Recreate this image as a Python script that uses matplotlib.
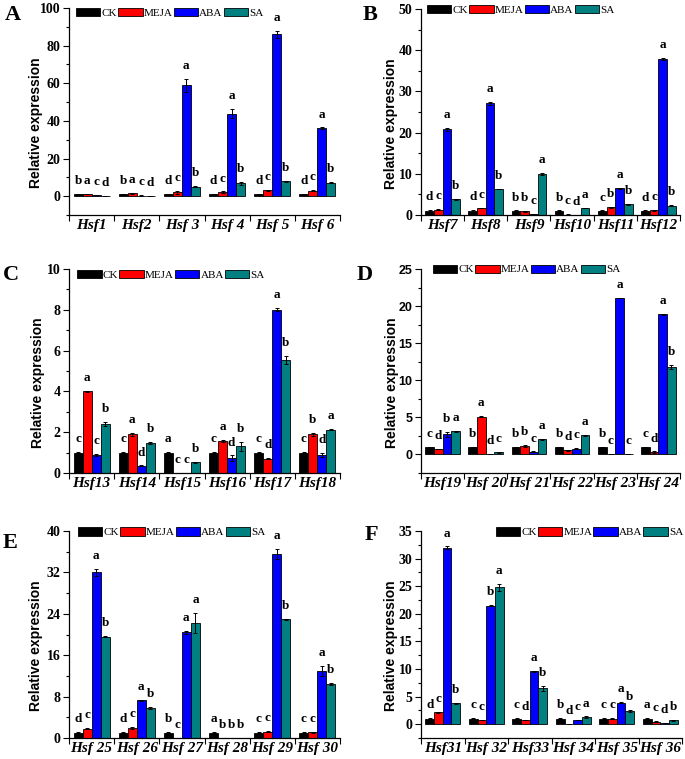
#!/usr/bin/env python3

import numpy as np
import matplotlib.pyplot as plt
from matplotlib.ticker import AutoMinorLocator
from matplotlib.patches import Patch

treatments = ["CK", "MEJA", "ABA", "SA"]
colors = ["#000000", "#ff0000", "#0000ff", "#008080"]

# panel A
genes_a = ["Hsf1", "Hsf2", "Hsf 3", "Hsf 4", "Hsf 5", "Hsf 6"]
ck_a = [1.0, 1.0, 1.0, 1.0, 1.0, 1.0]
meja_a = [1.0, 1.6, 2.0, 2.2, 3.2, 3.0]
aba_a = [0.5, 0.3, 59.0, 43.8, 86.0, 36.0]
sa_a = [0.1, 0.1, 5.0, 7.0, 8.0, 7.2]
err_a = [[0.1, 0.1, 0.1, 0.2, 0.1, 0.1],
         [0.1, 0.2, 1.0, 0.3, 0.3, 0.5],
         [0.1, 0.1, 3.5, 2.5, 2.0, 0.5],
         [0.1, 0.1, 0.3, 0.8, 0.3, 0.2]]
letters_a = ["bacd", "bacd", "dcab", "dcab", "dcab", "dcab"]

# panel B
genes_b = ["Hsf7", "Hsf8", "Hsf9", "Hsf10", "Hsf11", "Hsf12"]
ck_b = [1.0, 1.0, 1.0, 1.0, 1.0, 1.0]
meja_b = [1.3, 1.7, 0.9, 0.1, 1.9, 1.1]
aba_b = [20.8, 27.1, 0.3, 0.05, 6.5, 37.9]
sa_b = [3.8, 6.3, 9.9, 1.7, 2.6, 2.3]
err_b = [[0.2, 0.2, 0.1, 0.1, 0.1, 0.1],
         [0.1, 0.1, 0.1, 0.05, 0.1, 0.2],
         [0.3, 0.4, 0.05, 0.02, 0.1, 0.2],
         [0.1, 0.1, 0.2, 0.1, 0.1, 0.1]]
letters_b = ["dcab", "dcab", "bbca", "bcda", "cbab", "dcab"]

# panel C
genes_c = ["Hsf13", "Hsf14", "Hsf15", "Hsf16", "Hsf17", "Hsf18"]
ck_c = [1.0, 1.0, 1.0, 1.0, 1.0, 1.0]
meja_c = [4.0, 1.9, 0.0, 1.57, 0.7, 1.9]
aba_c = [0.88, 0.35, 0.0, 0.72, 8.0, 0.88]
sa_c = [2.4, 1.45, 0.52, 1.3, 5.55, 2.12]
err_c = [[0.02, 0.03, 0.02, 0.02, 0.02, 0.03],
         [0.02, 0.08, 0.0, 0.03, 0.02, 0.08],
         [0.05, 0.02, 0.0, 0.14, 0.08, 0.08],
         [0.12, 0.05, 0.03, 0.2, 0.2, 0.03]]
letters_c = ["cacb", "cadb", "accb", "cadb", "cdab", "cbda"]

# panel D
genes_d = ["Hsf19", "Hsf 20", "Hsf 21", "Hsf 22", "Hsf 23", "Hsf 24"]
ck_d = [1.0, 1.0, 1.0, 1.0, 1.0, 1.0]
meja_d = [0.75, 5.1, 1.1, 0.55, 0.05, 0.3]
aba_d = [2.7, 0.05, 0.35, 0.8, 21.1, 18.9]
sa_d = [3.1, 0.3, 2.05, 2.6, 0.05, 11.8]
err_d = [[0.05, 0.05, 0.05, 0.05, 0.05, 0.05],
         [0.05, 0.05, 0.15, 0.05, 0.02, 0.1],
         [0.3, 0.02, 0.05, 0.05, 0.05, 0.1],
         [0.05, 0.05, 0.05, 0.05, 0.02, 0.25]]
letters_d = ["cdba", "badc", "bbca", "bdca", "bcac", "cdab"]

# panel E
genes_e = ["Hsf 25", "Hsf 26", "Hsf 27", "Hsf 28", "Hsf 29", "Hsf 30"]
ck_e = [1.0, 1.0, 1.0, 1.0, 1.0, 1.0]
meja_e = [1.8, 2.0, 0.0, 0.0, 1.2, 1.1]
aba_e = [32.0, 7.3, 20.4, 0.0, 35.6, 13.0]
sa_e = [19.6, 5.8, 22.2, 0.0, 22.9, 10.5]
err_e = [[0.1, 0.1, 0.1, 0.1, 0.1, 0.1],
         [0.1, 0.2, 0.0, 0.0, 0.1, 0.1],
         [0.7, 0.1, 0.3, 0.0, 1.0, 1.0],
         [0.1, 0.2, 2.0, 0.0, 0.1, 0.2]]
letters_e = ["dcab", "dcab", "bcaa", "abbb", "ccab", "ccab"]

# panel F
genes_f = ["Hsf31", "Hsf 32", "Hsf33", "Hsf 34", "Hsf 35", "Hsf 36"]
ck_f = [1.0, 1.0, 1.0, 1.0, 1.0, 1.0]
meja_f = [2.2, 0.8, 0.8, 0.02, 1.0, 0.45]
aba_f = [32.0, 21.5, 9.6, 0.75, 3.9, 0.2]
sa_f = [3.8, 24.8, 6.5, 1.3, 2.4, 0.7]
err_f = [[0.05, 0.05, 0.05, 0.05, 0.05, 0.05],
         [0.1, 0.05, 0.05, 0.02, 0.05, 0.05],
         [0.2, 0.1, 0.1, 0.05, 0.1, 0.05],
         [0.1, 0.6, 0.4, 0.1, 0.25, 0.05]]
letters_f = ["dcab", "ccba", "cdab", "bdca", "ccab", "acdb"]

SERIF = "Liberation Serif"
SANS = "Liberation Sans"

W, H = 685, 759
fig = plt.figure(figsize=(W / 100, H / 100), dpi=100)


def px_axes(left, top, right, bottom):
    return fig.add_axes([left / W, 1 - bottom / H, (right - left) / W, (bottom - top) / H])


def draw(ax, genes, vals, errs, letters, ylim, step, tickfont, ticksize, leg_loc, leg_anchor, ylab_x):
    x = np.arange(len(genes))
    w = 0.2
    for i in range(4):
        xi = x + (i - 1.5) * w
        ax.bar(xi, vals[i], w, color=colors[i], edgecolor="black", linewidth=0.6,
               yerr=errs[i], capsize=1.6,
               error_kw=dict(elinewidth=0.7, capthick=0.7, ecolor="black"))
        for j in range(len(genes)):
            ax.annotate(letters[j][i], (xi[j], vals[i][j] + errs[i][j]),
                        xytext=(0, 5), textcoords="offset points",
                        ha="center", va="bottom", fontfamily=SERIF,
                        fontweight="bold", fontsize=9.5)

    ax.set_xlim(-0.5, len(genes) - 0.5)
    ax.set_ylim(*ylim)
    ax.set_yticks(np.arange(0, ylim[1] + 0.01, step))
    ax.yaxis.set_minor_locator(AutoMinorLocator(2))
    ax.set_xticks(x)
    ax.set_xticklabels(genes, fontfamily=SERIF, fontweight="bold",
                       fontstyle="italic", fontsize=11)
    ax.set_xticks(np.arange(-0.5, len(genes)), minor=True)
    ax.tick_params(axis="x", which="major", length=0, pad=3)
    ax.tick_params(axis="x", which="minor", length=4, width=0.8, direction="out")
    ax.tick_params(axis="y", which="major", length=4, width=0.8, pad=2)
    ax.tick_params(axis="y", which="minor", length=2, width=0.8)
    for lab in ax.get_yticklabels():
        lab.set_fontfamily(tickfont)
        lab.set_fontweight("bold")
        lab.set_fontsize(ticksize)
    ax.spines["top"].set_visible(False)
    ax.spines["right"].set_visible(False)
    ax.spines["left"].set_linewidth(0.9)
    ax.spines["bottom"].set_linewidth(0.9)

    ax.set_ylabel("Relative expression", fontfamily=SANS, fontweight="bold", fontsize=10)
    ax.yaxis.set_label_coords(ylab_x, 0.445)

    handles = [Patch(facecolor=c, edgecolor="black", linewidth=0.6, label=t)
               for c, t in zip(colors, treatments)]
    ax.legend(handles=handles, ncol=4, loc=leg_loc, bbox_to_anchor=leg_anchor,
              frameon=False, handlelength=2.2, handleheight=0.75,
              handletextpad=0.1, columnspacing=0.1, borderpad=0, borderaxespad=0,
              prop=dict(family=SERIF, size=8))


ax_a = px_axes(69, 8, 340, 215)
draw(ax_a, genes_a, [ck_a, meja_a, aba_a, sa_a], err_a, letters_a,
     (-10, 100), 20, SERIF, 10, "upper left", (0.026, 1.0), -0.096)

ax_b = px_axes(421, 9, 680, 215)
draw(ax_b, genes_b, [ck_b, meja_b, aba_b, sa_b], err_b, letters_b,
     (0, 50), 10, SERIF, 10, "upper left", (0.023, 1.02), -0.089)

ax_c = px_axes(69, 269, 340, 473)
draw(ax_c, genes_c, [ck_c, meja_c, aba_c, sa_c], err_c, letters_c,
     (0, 10), 2, SERIF, 10, "upper left", (0.03, 0.995), -0.089)

ax_d = px_axes(421, 269, 680, 473)
draw(ax_d, genes_d, [ck_d, meja_d, aba_d, sa_d], err_d, letters_d,
     (-2.5, 25), 5, SANS, 9, "upper left", (0.046, 1.022), -0.085)

ax_e = px_axes(69, 531, 340, 738)
draw(ax_e, genes_e, [ck_e, meja_e, aba_e, sa_e], err_e, letters_e,
     (0, 40), 8, SERIF, 10, "upper left", (0.033, 1.017), -0.096)

ax_f = px_axes(421, 531, 682, 738)
draw(ax_f, genes_f, [ck_f, meja_f, aba_f, sa_f], err_f, letters_f,
     (-2.5, 35), 5, SERIF, 10, "upper right", (1.005, 1.017), -0.09)

for lab, (px, py) in zip("ABCDEF", [(5, 5), (363, 5), (3, 265), (357, 265), (3, 533), (365, 525)]):
    fig.text(px / W, 1 - py / H, lab, ha="left", va="top", fontfamily=SERIF,
             fontweight="bold", fontsize=16)

fig.savefig("out.png", dpi=100)
